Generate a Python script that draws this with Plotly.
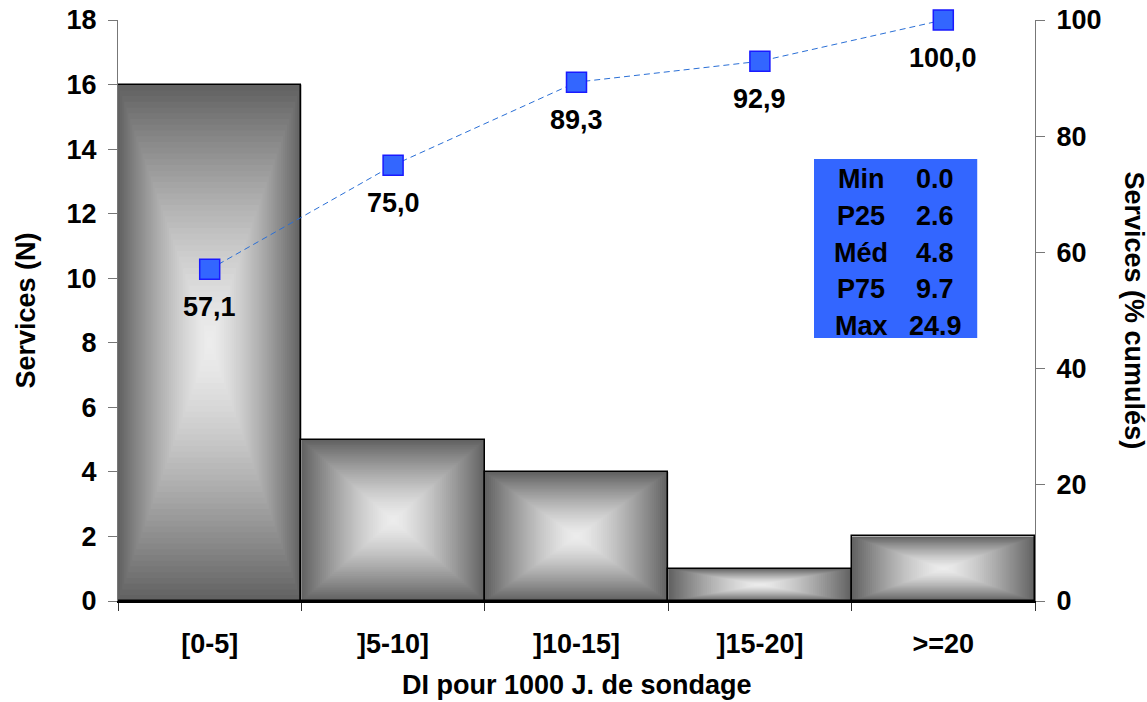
import plotly.graph_objects as go

# Data
categories = ["[0-5]", "]5-10]", "]10-15]", "]15-20]", ">=20"]
services_n = [16, 5, 4, 1, 2]
cumulative_pct = [57.1, 75.0, 89.3, 92.9, 100.0]
stat_names = ["Min", "P25", "Méd", "P75", "Max"]
stat_values = ["0.0", "2.6", "4.8", "9.7", "24.9"]
left_ticks = list(range(0, 19, 2))
right_ticks = list(range(0, 101, 20))

FONT = "Liberation Sans, Arial, sans-serif"
FS = 27
EDGE_GREY = 98
CENTER_GREY = 236
STEPS = 45

x_idx = list(range(len(categories)))


def grey(t):
    """t = 0 at the bar edge, 1 at the centre of the bar."""
    f = 1 - (1 - t) ** 1.35
    g = round(EDGE_GREY + (CENTER_GREY - EDGE_GREY) * f)
    return f"rgb({g},{g},{g})"


# Box ("from centre") gradient for each bar: nested rectangles shrinking to the centre
shapes = []
for i, v in zip(x_idx, services_n):
    cy = v / 2
    for k in range(STEPS):
        s = 1 - k / STEPS
        shapes.append(dict(
            type="rect", xref="x", yref="y", layer="below",
            x0=i - 0.5 * s, x1=i + 0.5 * s,
            y0=cy - cy * s, y1=cy + cy * s,
            fillcolor=grey(k / (STEPS - 1)), line=dict(width=0),
        ))

# Statistics box
shapes.append(dict(
    type="rect", xref="paper", yref="paper",
    x0=0.759, x1=0.937, y0=0.4527, y1=0.7608,
    fillcolor="#3366FF", line=dict(width=0), layer="above",
))

fig = go.Figure()

# Bar outlines (fill comes from the gradient shapes)
fig.add_trace(go.Bar(
    x=x_idx, y=services_n, width=1,
    marker=dict(color="rgba(0,0,0,0)", line=dict(color="black", width=1.5)),
    hoverinfo="x+y", showlegend=False,
))

# Cumulative percentage line
fig.add_trace(go.Scatter(
    x=x_idx, y=cumulative_pct, yaxis="y2", mode="lines+markers",
    line=dict(color="#2a6fd6", width=1, dash="6px,4px"),
    marker=dict(symbol="square", size=20, color="#3366FF",
                line=dict(color="#1a1aff", width=1.5)),
    cliponaxis=False, showlegend=False,
))

annotations = []
for i, p in zip(x_idx, cumulative_pct):
    annotations.append(dict(
        x=i, y=p, xref="x", yref="y2", yshift=-38,
        text=f"{p:.1f}".replace(".", ","), showarrow=False,
        font=dict(family=FONT, size=FS, color="black", weight="bold"),
    ))

# Statistics text, two columns
row_y0 = 179
row_step = 36.8
for r, (name, val) in enumerate(zip(stat_names, stat_values)):
    py = 1 - (row_y0 + r * row_step - 20) / 581
    annotations.append(dict(
        x=(861 - 118) / 917, y=py, xref="paper", yref="paper",
        text=name, showarrow=False, xanchor="center", yanchor="middle",
        font=dict(family=FONT, size=FS, color="black", weight="bold"),
    ))
    annotations.append(dict(
        x=(935 - 118) / 917, y=py, xref="paper", yref="paper",
        text=val, showarrow=False, xanchor="center", yanchor="middle",
        font=dict(family=FONT, size=FS, color="black", weight="bold"),
    ))

# Axis titles
annotations.append(dict(
    x=(25 - 118) / 917, y=0.5, xref="paper", yref="paper",
    text="Services (N)", textangle=-90, showarrow=False,
    xanchor="center", yanchor="middle",
    font=dict(family=FONT, size=FS, color="black", weight="bold"),
))
annotations.append(dict(
    x=(1134 - 118) / 917, y=0.5, xref="paper", yref="paper",
    text="Services (% cumulés)", textangle=90, showarrow=False,
    xanchor="center", yanchor="middle",
    font=dict(family=FONT, size=FS, color="black", weight="bold"),
))
annotations.append(dict(
    x=0.5, y=-(685 - 601) / 581, xref="paper", yref="paper",
    text="DI pour 1000 J. de sondage", showarrow=False,
    xanchor="center", yanchor="middle",
    font=dict(family=FONT, size=FS, color="black", weight="bold"),
))

tickfont = dict(family=FONT, size=FS, color="black", weight="bold")

fig.update_layout(
    width=1147, height=702,
    margin=dict(l=118, r=112, t=20, b=101, autoexpand=False),
    paper_bgcolor="white", plot_bgcolor="white",
    font=dict(family=FONT, size=FS, color="black", weight="bold"),
    shapes=shapes, annotations=annotations,
    bargap=0,
    xaxis=dict(
        range=[-0.5, 4.5], tickvals=x_idx, ticktext=categories,
        ticks="", tickfont=tickfont, ticklabelstandoff=18, automargin=False,
        showline=True, linecolor="black", linewidth=2,
        showgrid=False, zeroline=False,
        minor=dict(tickvals=[i - 0.5 for i in range(len(categories) + 1)],
                   ticks="outside", ticklen=8, tickcolor="#333333", tickwidth=1),
    ),
    yaxis=dict(
        range=[0, 18], tickvals=left_ticks, ticks="outside", ticklen=9,
        tickcolor="#777777", tickfont=tickfont, ticklabelstandoff=6,
        automargin=False,
        showline=True, linecolor="#777777", linewidth=1,
        showgrid=False, zeroline=False,
    ),
    yaxis2=dict(
        range=[0, 100], tickvals=right_ticks, overlaying="y", side="right",
        ticks="outside", ticklen=9, tickcolor="#777777", tickfont=tickfont,
        ticklabelstandoff=6, automargin=False,
        showline=True, linecolor="#777777", linewidth=1,
        showgrid=False, zeroline=False,
    ),
)

fig.write_html("out.html")
